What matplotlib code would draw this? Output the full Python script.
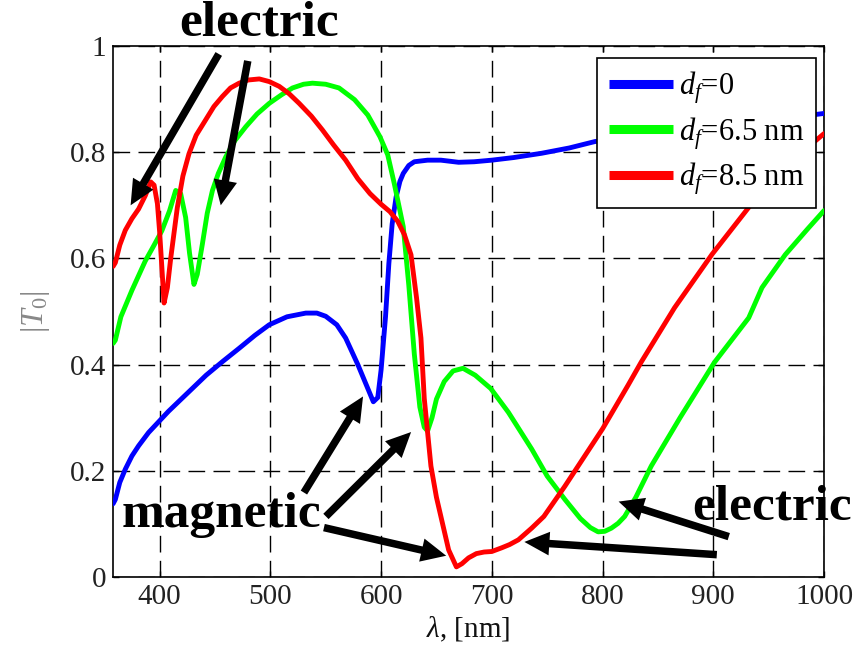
import matplotlib
matplotlib.use("Agg")
import matplotlib.pyplot as plt
import numpy as np

# ---------------- data ----------------
wl_blue = [358, 360, 364, 369, 375, 381, 390, 399, 408, 417, 430, 442, 457, 472, 486,
           499, 515, 532, 542, 550, 560, 568, 579, 587, 593, 597, 600, 604, 607, 610,
           613.5, 617, 620, 625, 630, 642, 654, 670, 684, 700, 720, 745, 770, 793,
           850, 900, 950, 1000]
T_blue = [0.138, 0.146, 0.178, 0.203, 0.228, 0.247, 0.272, 0.292, 0.312, 0.330, 0.356,
          0.380, 0.406, 0.431, 0.455, 0.475, 0.490, 0.497, 0.497, 0.491, 0.475, 0.450,
          0.400, 0.360, 0.330, 0.338, 0.390, 0.490, 0.590, 0.665, 0.715, 0.745, 0.760,
          0.775, 0.782, 0.785, 0.785, 0.781, 0.782, 0.785, 0.790, 0.798, 0.808, 0.820,
          0.835, 0.847, 0.860, 0.873]

wl_green = [358, 360, 365, 375, 387, 395, 402, 409, 414.5, 419, 423.5, 427, 431, 434,
            438.6, 443, 447.7, 453, 459.7, 468, 477.8, 488, 499, 510, 520, 530, 538,
            550, 562, 576, 588, 599, 606, 612, 617, 620, 625, 630, 635, 639, 642, 646,
            650, 657, 665, 674, 685, 699, 715, 736, 750, 766, 780, 789, 796, 802, 808,
            814, 820, 830, 844, 870, 901, 932, 944, 965, 985, 1000]
T_green = [0.440, 0.446, 0.490, 0.540, 0.595, 0.625, 0.652, 0.690, 0.728, 0.722, 0.677,
           0.610, 0.551, 0.570, 0.627, 0.685, 0.728, 0.760, 0.791, 0.822, 0.848, 0.872,
           0.892, 0.908, 0.921, 0.928, 0.930, 0.928, 0.921, 0.899, 0.870, 0.829, 0.795,
           0.740, 0.690, 0.660, 0.550, 0.420, 0.320, 0.282, 0.275, 0.300, 0.335, 0.368,
           0.388, 0.393, 0.380, 0.355, 0.310, 0.241, 0.190, 0.146, 0.110, 0.093, 0.085,
           0.086, 0.092, 0.101, 0.114, 0.150, 0.209, 0.300, 0.404, 0.488, 0.545, 0.607,
           0.655, 0.690]

wl_red = [358, 360, 364, 369, 375, 381, 387, 392, 395, 398, 400, 402.4, 404, 407, 410,
          416, 421, 426.5, 433, 441.6, 449, 456.7, 464, 471.8, 480, 490, 499, 508, 517,
          526, 537, 547, 557, 568, 579, 590, 600, 608, 615, 621, 627, 632, 636, 639,
          645, 650, 654, 661, 668, 673, 679, 686, 693, 700, 709, 716, 724, 736, 747,
          766, 800, 823, 835, 865, 899, 932, 960, 980, 1000]
T_red = [0.585, 0.592, 0.625, 0.653, 0.675, 0.693, 0.718, 0.744, 0.738, 0.703, 0.650,
         0.570, 0.516, 0.545, 0.600, 0.696, 0.755, 0.797, 0.832, 0.861, 0.886, 0.905,
         0.921, 0.930, 0.936, 0.938, 0.933, 0.924, 0.910, 0.892, 0.868, 0.842, 0.814,
         0.785, 0.750, 0.722, 0.702, 0.688, 0.670, 0.645, 0.607, 0.526, 0.450, 0.336,
         0.209, 0.150, 0.114, 0.051, 0.019, 0.025, 0.036, 0.044, 0.047, 0.048, 0.055,
         0.061, 0.070, 0.092, 0.114, 0.171, 0.279, 0.361, 0.405, 0.507, 0.608, 0.696,
         0.760, 0.800, 0.835]

series_labels = [r'$d_f$=0', r'$d_f$=6.5 nm', r'$d_f$=8.5 nm']
x_ticks = [400, 500, 600, 700, 800, 900, 1000]
y_ticks = [0, 0.2, 0.4, 0.6, 0.8, 1]
y_ticklabels = ['0', '0.2', '0.4', '0.6', '0.8', '1']

# ---------------- style ----------------
plt.rcParams['font.family'] = ['Liberation Serif', 'DejaVu Serif']
plt.rcParams['mathtext.fontset'] = 'custom'
plt.rcParams['mathtext.rm'] = 'Liberation Serif'
plt.rcParams['mathtext.it'] = 'Liberation Serif:italic'
plt.rcParams['mathtext.bf'] = 'Liberation Serif:bold'

fig = plt.figure(figsize=(8.57, 6.48), dpi=100)
ax = fig.add_axes([0.132, 0.1096, 0.8295, 0.8194])

lw = 3.5
line_kw = dict(lw=lw, solid_joinstyle='round', solid_capstyle='round', zorder=3)
ax.plot(wl_blue, T_blue, color=(0, 0, 1), label=series_labels[0], **line_kw)
ax.plot(wl_green, T_green, color=(0, 1, 0), label=series_labels[1], **line_kw)
ax.plot(wl_red, T_red, color=(1, 0, 0), label=series_labels[2], **line_kw)

ax.set_xlim(358, 1000)
ax.set_ylim(0, 1)
ax.set_xticks(x_ticks)
ax.set_yticks(y_ticks)
ax.set_yticklabels(y_ticklabels)
ax.tick_params(direction='in', length=4, width=1, top=True, right=True,
               labelsize=21, labelcolor='#222222', pad=5)
ax.grid(True, color='k', linestyle=(0, (12, 6)), linewidth=1.0)
for s in ax.spines.values():
    s.set_linewidth(1.2)

ax.set_xlabel(r'$\lambda$, [nm]', fontsize=21, color='#111111')
ax.xaxis.set_label_coords(0.5, -0.071)
ax.xaxis.label.set_va('top')
ax.set_ylabel(r'$|T_0|$', fontsize=23, color='#888888')
ax.yaxis.set_label_coords(-0.086, 0.5)

leg = ax.legend(loc='upper right', bbox_to_anchor=(0.9887, 0.977), borderaxespad=0,
                fontsize=22, fancybox=False, framealpha=1, edgecolor='k',
                handlelength=2.1, handletextpad=0.2, labelspacing=0.28,
                borderpad=0.38)
leg.get_frame().set_linewidth(1.2)
for h in leg.get_lines():
    h.set_linewidth(6.5)
    h.set_solid_capstyle('butt')
leg.set_zorder(5)

# ---------------- annotations ----------------
txt_kw = dict(fontsize=37, fontweight='bold', ha='center', va='baseline',
              color='k', zorder=6)
ax.text(490, 1.019, 'electric', **txt_kw)
ax.text(456, 0.095, 'magnetic', **txt_kw)
ax.text(953, 0.108, 'electric', **txt_kw)

arrow_kw = dict(arrowstyle='simple,head_length=0.9,head_width=0.85,tail_width=0.27',
                mutation_scale=20, color='k', lw=0, shrinkA=0, shrinkB=0)
arrows = [((453.4, 0.985), (373.8, 0.700)),
          ((479.6, 0.972), (455.2, 0.700)),
          ((530.3, 0.159), (583.7, 0.340)),
          ((550.2, 0.114), (627.1, 0.273)),
          ((548.4, 0.093), (658.8, 0.040)),
          ((914.0, 0.076), (814.5, 0.142)),
          ((903.2, 0.042), (729.4, 0.066))]
for tail, tip in arrows:
    ax.annotate('', xy=tip, xytext=tail, arrowprops=arrow_kw,
                annotation_clip=False, zorder=6)

fig.savefig('out.png', dpi=100)
